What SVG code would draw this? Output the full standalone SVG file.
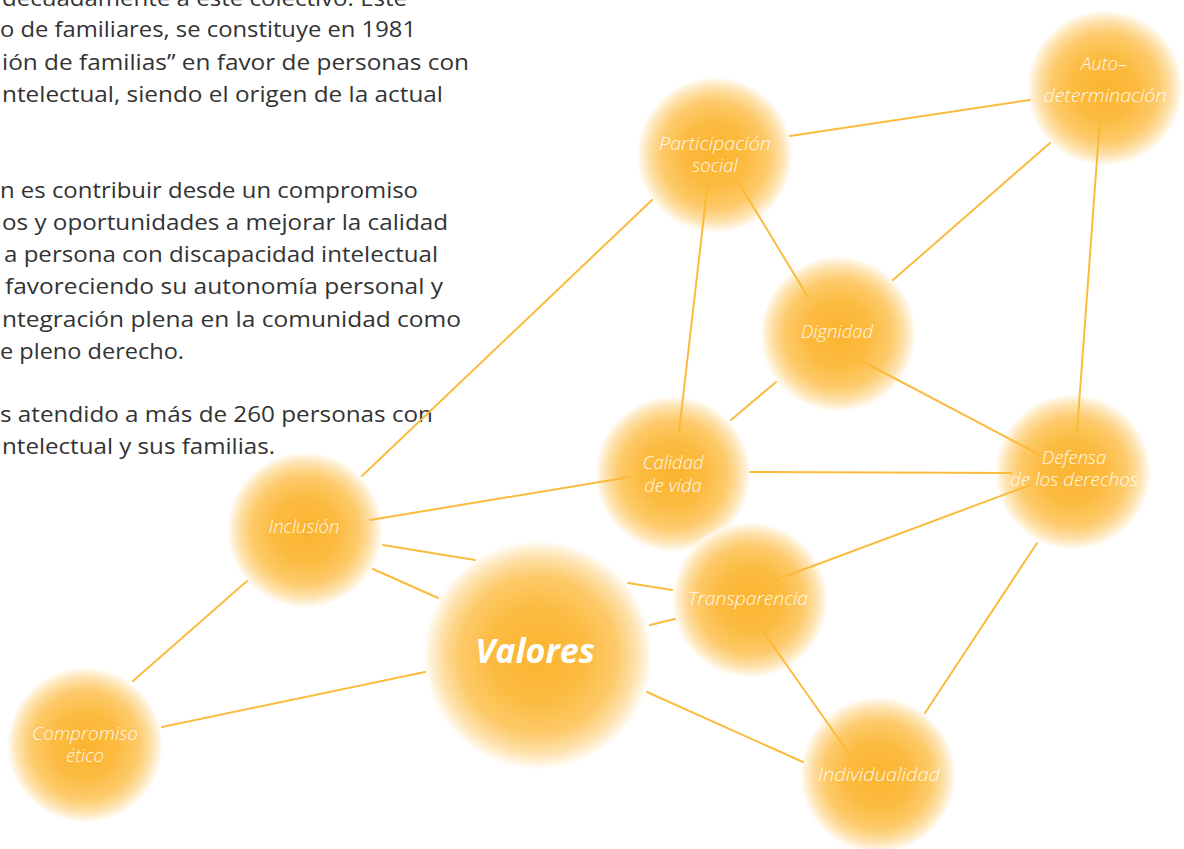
<svg xmlns="http://www.w3.org/2000/svg" width="1184" height="849" viewBox="0 0 1184 849">
<defs>
<radialGradient id="glow" cx="50%" cy="50%" r="50%">
<stop offset="0" stop-color="#fbb430"/>
<stop offset="0.4" stop-color="#fcbb40"/>
<stop offset="0.68" stop-color="#fdca6a"/>
<stop offset="0.85" stop-color="#fee2ad"/>
<stop offset="0.95" stop-color="#fff6e6"/>
<stop offset="1" stop-color="#ffffff" stop-opacity="0"/>
</radialGradient>
<style>
.body{font-family:"Open Sans","Liberation Sans",sans-serif;font-size:22.5px;fill:#333333}
.lab{font-family:"Open Sans","Liberation Sans",sans-serif;font-style:italic;font-weight:300;font-size:18.5px;fill:#ffffff;fill-opacity:0.92;text-anchor:middle}
.big{font-family:"Open Sans","Liberation Sans",sans-serif;font-style:italic;font-weight:700;font-size:34px;fill:#ffffff;text-anchor:middle}
.edge{stroke:#fbb934;stroke-width:2;fill:none;stroke-linecap:round}
</style>
</defs>
<rect width="1184" height="849" fill="#ffffff"/>
<g id="paragraph">
<text class="body" x="2" y="6" textLength="405" lengthAdjust="spacingAndGlyphs">decuadamente a este colectivo. Este</text>
<text class="body" x="0" y="37" textLength="416" lengthAdjust="spacingAndGlyphs">o de familiares, se constituye en 1981</text>
<text class="body" x="2" y="70" textLength="467" lengthAdjust="spacingAndGlyphs">ión de familias” en favor de personas con</text>
<text class="body" x="2" y="102" textLength="441" lengthAdjust="spacingAndGlyphs">ntelectual, siendo el origen de la actual</text>
<text class="body" x="0" y="198" textLength="418" lengthAdjust="spacingAndGlyphs">n es contribuir desde un compromiso</text>
<text class="body" x="2" y="230" textLength="446" lengthAdjust="spacingAndGlyphs">os y oportunidades a mejorar la calidad</text>
<text class="body" x="4" y="262" textLength="434" lengthAdjust="spacingAndGlyphs">a persona con discapacidad intelectual</text>
<text class="body" x="5" y="294" textLength="438" lengthAdjust="spacingAndGlyphs">favoreciendo su autonomía personal y</text>
<text class="body" x="2" y="327" textLength="459" lengthAdjust="spacingAndGlyphs">ntegración plena en la comunidad como</text>
<text class="body" x="0" y="359" textLength="184" lengthAdjust="spacingAndGlyphs">e pleno derecho.</text>
<text class="body" x="0" y="422" textLength="433" lengthAdjust="spacingAndGlyphs">s atendido a más de 260 personas con</text>
<text class="body" x="2" y="454" textLength="273" lengthAdjust="spacingAndGlyphs">ntelectual y sus familias.</text>
</g>
<g id="participacion">
<circle cx="715" cy="155" r="79" fill="url(#glow)"/>
<text class="lab"><tspan x="715" y="150" textLength="112" lengthAdjust="spacingAndGlyphs">Participación</tspan><tspan x="715" y="172">social</tspan></text>
</g>
<g id="autodeterminacion">
<circle cx="1105" cy="88" r="79" fill="url(#glow)"/>
<text class="lab"><tspan x="1104" y="70">Auto–</tspan><tspan x="1105" y="102" textLength="123" lengthAdjust="spacingAndGlyphs">determinación</tspan></text>
</g>
<g id="dignidad">
<circle cx="838" cy="334" r="79" fill="url(#glow)"/>
<text class="lab" x="837" y="338">Dignidad</text>
</g>
<g id="calidad">
<circle cx="673" cy="474" r="79" fill="url(#glow)"/>
<text class="lab"><tspan x="673" y="469">Calidad</tspan><tspan x="673" y="492">de vida</tspan></text>
</g>
<g id="defensa">
<circle cx="1073" cy="472" r="79" fill="url(#glow)"/>
<text class="lab"><tspan x="1074" y="464">Defensa</tspan><tspan x="1074" y="486" textLength="128" lengthAdjust="spacingAndGlyphs">de los derechos</tspan></text>
</g>
<g id="inclusion">
<circle cx="305" cy="530" r="79" fill="url(#glow)"/>
<text class="lab" x="304" y="533">Inclusión</text>
</g>
<g id="transparencia">
<circle cx="750" cy="600" r="79" fill="url(#glow)"/>
<text class="lab" x="748" y="605" textLength="120" lengthAdjust="spacingAndGlyphs">Transparencia</text>
</g>
<g id="valores">
<circle cx="538" cy="655" r="116" fill="url(#glow)"/>
<text class="big" x="535" y="663">Valores</text>
</g>
<g id="individualidad">
<circle cx="878" cy="775" r="79" fill="url(#glow)"/>
<text class="lab" x="879" y="781" textLength="122" lengthAdjust="spacingAndGlyphs">Individualidad</text>
</g>
<g id="compromiso">
<circle cx="85" cy="745" r="79" fill="url(#glow)"/>
<text class="lab"><tspan x="85" y="740" textLength="106" lengthAdjust="spacingAndGlyphs">Compromiso</tspan><tspan x="85" y="762">ético</tspan></text>
</g>
<g id="connectors" opacity="0.95">
<line class="edge" x1="652" y1="200" x2="362" y2="476"/>
<line class="edge" x1="790" y1="136" x2="1030" y2="100"/>
<line class="edge" x1="709" y1="172" x2="679" y2="432"/>
<line class="edge" x1="737" y1="180" x2="808" y2="297"/>
<line class="edge" x1="1050" y1="143" x2="893" y2="280"/>
<line class="edge" x1="1100" y1="118" x2="1077" y2="432"/>
<line class="edge" x1="776" y1="382" x2="731" y2="420"/>
<line class="edge" x1="860" y1="360" x2="1040" y2="455"/>
<line class="edge" x1="750" y1="472" x2="1012" y2="473"/>
<line class="edge" x1="630" y1="477" x2="370" y2="520"/>
<line class="edge" x1="383" y1="545" x2="475" y2="560"/>
<line class="edge" x1="628" y1="583" x2="672" y2="590"/>
<line class="edge" x1="373" y1="569" x2="438" y2="598"/>
<line class="edge" x1="650" y1="625" x2="675" y2="619"/>
<line class="edge" x1="1030" y1="485" x2="770" y2="582"/>
<line class="edge" x1="762" y1="630" x2="855" y2="762"/>
<line class="edge" x1="647" y1="692" x2="803" y2="762"/>
<line class="edge" x1="1037" y1="543" x2="925" y2="713"/>
<line class="edge" x1="133" y1="681" x2="247" y2="581"/>
<line class="edge" x1="162" y1="727" x2="425" y2="672"/>
</g>
</svg>
